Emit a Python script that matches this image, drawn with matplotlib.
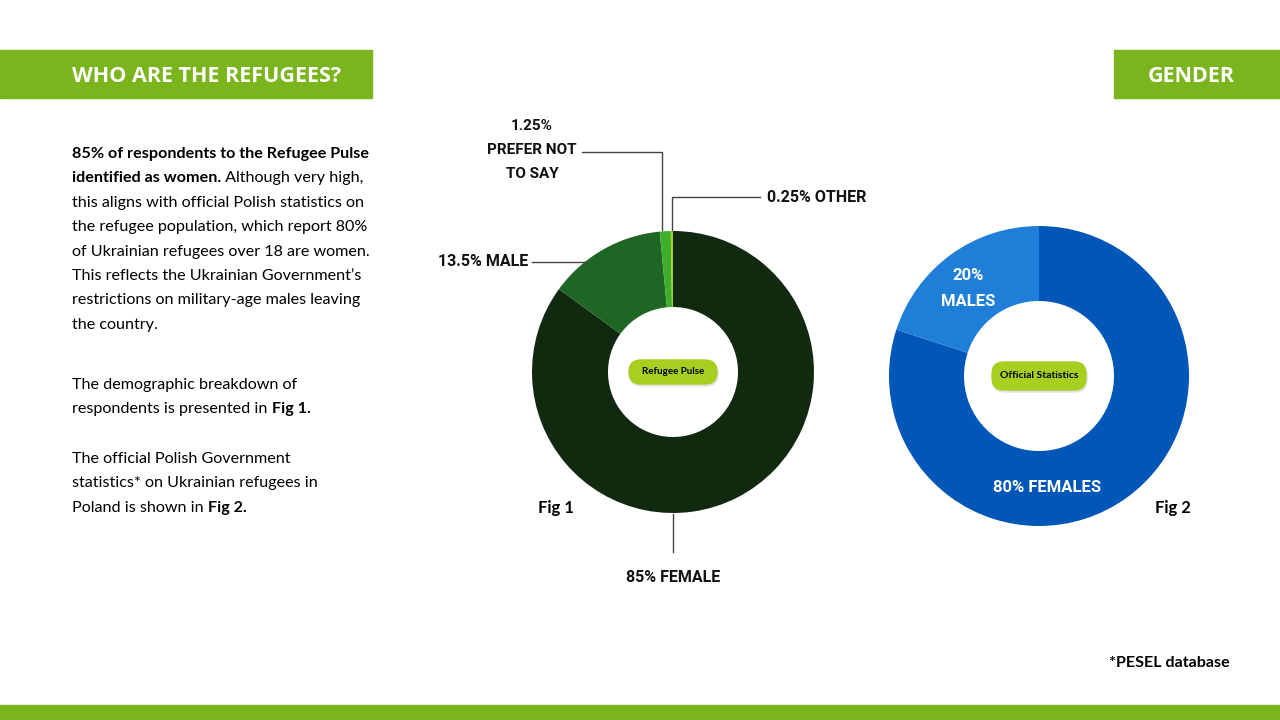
import matplotlib
matplotlib.use("Agg")
import matplotlib.pyplot as plt
from matplotlib.patches import Rectangle, FancyBboxPatch

fig1_labels = ["85% FEMALE", "13.5% MALE", "1.25% PREFER NOT TO SAY", "0.25% OTHER"]
fig1_values = [85, 13.5, 1.25, 0.25]
fig1_colors = ["#112a0f", "#1e6623", "#3fae2a", "#a6d21c"]
fig2_labels = ["80% FEMALES", "20% MALES"]
fig2_values = [80, 20]
fig2_colors = ["#0057b8", "#1f7fd8"]

GREEN = "#7ab51d"
W, H = 1280, 720
fig = plt.figure(figsize=(12.8, 7.2), dpi=100)
ov = fig.add_axes([0, 0, 1, 1])
ov.set_xlim(0, W); ov.set_ylim(H, 0); ov.axis("off")

ov.add_patch(Rectangle((0, 50), 372, 48, color=GREEN))
ov.add_patch(Rectangle((1114, 50), 166, 48, color=GREEN))
ov.add_patch(Rectangle((0, 705), 1280, 15, color=GREEN))
ov.text(72, 76, "WHO ARE THE REFUGEES?", color="white", fontsize=15.5, fontweight="bold",
        va="center", family="Open Sans")
ov.text(1191, 76, "GENDER", color="white", fontsize=15.5, fontweight="bold",
        va="center", ha="center", family="Open Sans")

FS = 11.6
body = dict(fontsize=FS, family="Lato", va="center")
lines = [
    [("85% of respondents to the Refugee Pulse", True)],
    [("identified as women.", True), (" Although very high,", False)],
    [("this aligns with official Polish statistics on", False)],
    [("the refugee population, which report 80%", False)],
    [("of Ukrainian refugees over 18 are women.", False)],
    [("This reflects the Ukrainian Government\u2019s", False)],
    [("restrictions on military-age males leaving", False)],
    [("the country.", False)],
]
y = 154
for ln in lines:
    if len(ln) == 1:
        ov.text(72, y, ln[0][0], fontweight="bold" if ln[0][1] else "normal", **body)
    else:
        t = ov.text(72, y, ln[0][0], fontweight="bold", **body)
        ov.annotate(ln[1][0], xycoords=t, xy=(1, 0.5), va="center", fontsize=FS, family="Lato")
    y += 24.4
def mixed(y, a, b):
    t = ov.text(72, y, a, **body)
    ov.annotate(b, xycoords=t, xy=(1, 0.5), va="center", fontsize=FS, family="Lato", fontweight="bold")
ov.text(72, 385, "The demographic breakdown of", **body)
mixed(409, "respondents is presented in ", "Fig 1.")
ov.text(72, 459, "The official Polish Government", **body)
ov.text(72, 483, "statistics* on Ukrainian refugees in", **body)
mixed(508, "Poland is shown in ", "Fig 2.")
ov.text(1230, 663, "*PESEL database", ha="right", fontweight="bold", fontsize=FS, family="Lato", va="center")
ov.text(556, 508, "Fig 1", ha="center", fontweight="bold", fontsize=12, family="Lato", va="center")
ov.text(1173, 508, "Fig 2", ha="center", fontweight="bold", fontsize=12, family="Lato", va="center")

def donut(cx, cy, r, rin, vals, cols):
    ax = fig.add_axes([(cx - r) / W, (H - cy - r) / H, 2 * r / W, 2 * r / H])
    ax.pie(vals, colors=cols, startangle=90, counterclock=False, radius=1,
           wedgeprops=dict(width=1 - rin / r, linewidth=0))
    ax.set_xlim(-1, 1); ax.set_ylim(-1, 1); ax.axis("off")
    return ax

donut(673, 372, 141, 65, fig1_values, fig1_colors)
donut(1039, 376, 150, 75, fig2_values, fig2_colors)

def pill(cx, cy, w, h, txt, fs):
    ov.add_patch(FancyBboxPatch((cx - w / 2 + 1, cy - h / 2 + 2), w, h, boxstyle="round,pad=0,rounding_size=12",
                                color="#e2e2e2", zorder=4))
    ov.add_patch(FancyBboxPatch((cx - w / 2, cy - h / 2), w, h, boxstyle="round,pad=0,rounding_size=12",
                                color="#a6cf1f", zorder=5))
    ov.text(cx, cy, txt, ha="center", va="center", fontsize=fs, zorder=6, family="Lato", fontweight="bold")
pill(673, 372, 88, 24, "Refugee Pulse", 7)
pill(1039, 376, 94, 28, "Official Statistics", 7.5)

ov.set_zorder(3); ov.patch.set_alpha(0)

lab = dict(family="Roboto", fontweight="bold", fontsize=11.5, color="#111111")
lc = "#444444"
ov.plot([582, 662, 662], [152, 152, 230], color=lc, lw=1)
lab2 = dict(lab); lab2["fontsize"] = 11
ov.text(532, 126, "1.25%", ha="center", va="center", **lab2)
ov.text(532, 150, "PREFER NOT", ha="center", va="center", **lab2)
ov.text(532, 174, "TO SAY", ha="center", va="center", **lab2)
ov.plot([760, 672, 672], [197, 197, 230], color=lc, lw=1)
ov.text(767, 197, "0.25% OTHER", ha="left", va="center", **lab)
ov.plot([532, 587], [262, 262], color=lc, lw=1)
ov.text(528, 262, "13.5% MALE", ha="right", va="center", **lab)
ov.plot([673, 673], [514, 552], color=lc, lw=1)
ov.text(673, 577, "85% FEMALE", ha="center", va="center", **lab)

wl = dict(lab); wl["color"] = "white"; wl["fontsize"] = 12
ov.text(968, 276, "20%", ha="center", va="center", zorder=7, **wl)
ov.text(968, 302, "MALES", ha="center", va="center", zorder=7, **wl)
ov.text(1047, 487, "80% FEMALES", ha="center", va="center", zorder=7, **wl)

fig.savefig("out.png", dpi=100)
